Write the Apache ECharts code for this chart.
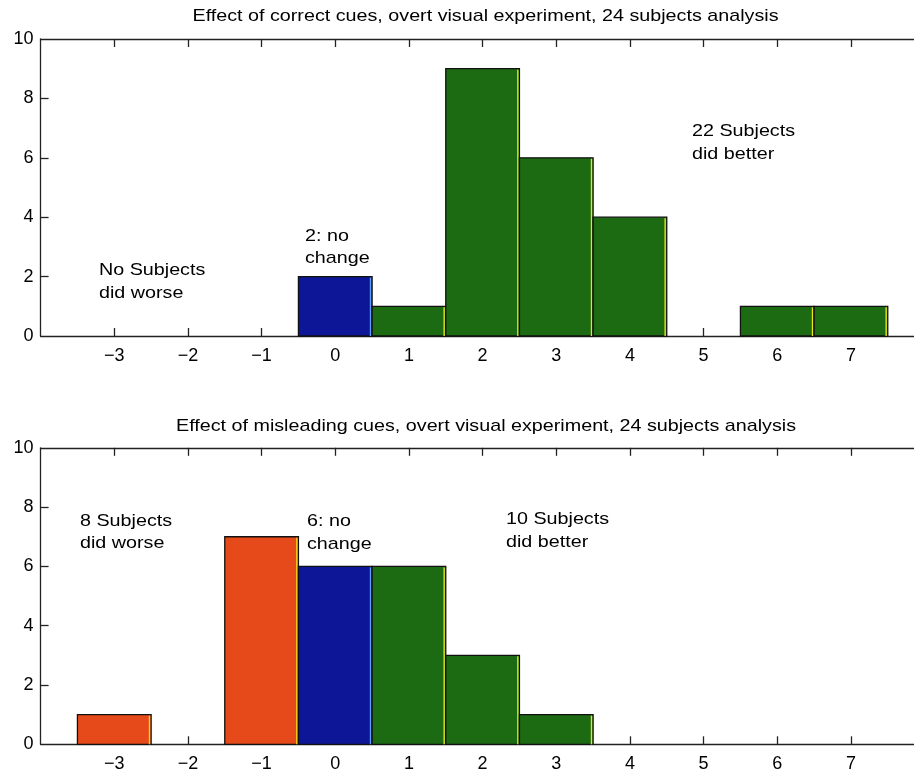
<!DOCTYPE html>
<html>
<head>
<meta charset="utf-8">
<script src="https://cdn.jsdelivr.net/npm/echarts@6/dist/echarts.min.js"></script>
<style>html,body{margin:0;padding:0;background:#fff}#c{width:914px;height:774px}</style>
</head>
<body>
<div id="c"></div>
<script>
// ---- data ----
var bins = [-3, -2, -1, 0, 1, 2, 3, 4, 5, 6, 7];
var correctCounts = [0, 0, 0, 2, 1, 9, 6, 4, 0, 1, 1];
var misleadingCounts = [1, 0, 7, 6, 6, 3, 1, 0, 0, 0, 0];
var yTicks = [0, 2, 4, 6, 8, 10];
var titles = [
  'Effect of correct cues, overt visual experiment, 24 subjects analysis',
  'Effect of misleading cues, overt visual experiment, 24 subjects analysis'
];
var notesTop = ['No Subjects\ndid worse', '2: no\nchange', '22 Subjects\ndid better'];
var notesBottom = ['8 Subjects\ndid worse', '6: no\nchange', '10 Subjects\ndid better'];

var FONT = 'Liberation Sans, Arial, Helvetica, sans-serif';
var SX = 1.16;
var C_RED = '#e64a1a', C_BLUE = '#0d1696', C_GREEN = '#1c6a12';
var E_RED = '#ffd21a', E_BLUE = '#5f9cff', E_GREEN = '#e6e61a';

function colorFor(b) { return b < 0 ? C_RED : (b === 0 ? C_BLUE : C_GREEN); }
function edgeFor(b) { return b < 0 ? E_RED : (b === 0 ? E_BLUE : E_GREEN); }

function buildData(counts) {
  var d = [];
  for (var i = 0; i < bins.length; i++) if (counts[i] > 0) d.push([bins[i], counts[i]]);
  return d;
}

function renderBar(params, api) {
  var b = api.value(0), v = api.value(1);
  var p0 = api.coord([b - 0.5, v]);
  var p1 = api.coord([b + 0.5, 0]);
  var x = p0[0], y = p0[1], w = p1[0] - p0[0], h = p1[1] - p0[1];
  return {
    type: 'group',
    children: [
      { type: 'rect', shape: { x: x, y: y, width: w, height: h },
        style: { fill: colorFor(b), stroke: '#111', lineWidth: 1.3 } },
      { type: 'line', shape: { x1: x + w - 1.6, y1: y + 1, x2: x + w - 1.6, y2: y + h },
        style: { stroke: edgeFor(b), lineWidth: 1.4 } }
    ]
  };
}

var gridW = 884;
var grids = [
  { left: 40.6, top: 39, width: gridW, height: 297, containLabel: false, outerBoundsMode: 'none' },
  { left: 40.6, top: 447.8, width: gridW, height: 296.5, containLabel: false, outerBoundsMode: 'none' }
];

var axisLineStyle = { color: '#222', width: 1.3 };
var xAxes = [], yAxes = [];
[0, 1].forEach(function (g) {
  xAxes.push({
    type: 'value', gridIndex: g, min: -4, max: 8, interval: 1, position: 'bottom',
    axisLine: { show: true, onZero: false, lineStyle: axisLineStyle },
    axisTick: { show: true, inside: true, length: 8, lineStyle: axisLineStyle, customValues: bins },
    axisLabel: { show: true, margin: 11, fontSize: 18, fontFamily: FONT, color: '#000',
      customValues: bins, formatter: function (v) { return v < 0 ? '\u2212' + Math.abs(v) : String(v); } },
    splitLine: { show: false }
  });
  xAxes.push({
    type: 'value', gridIndex: g, min: -4, max: 8, interval: 1, position: 'top',
    axisLine: { show: true, onZero: false, lineStyle: axisLineStyle },
    axisTick: { show: true, inside: true, length: 8, lineStyle: axisLineStyle, customValues: bins },
    axisLabel: { show: false }, splitLine: { show: false }
  });
  yAxes.push({
    type: 'value', gridIndex: g, min: 0, max: 10, interval: 2, position: 'left',
    axisLine: { show: true, onZero: false, lineStyle: axisLineStyle },
    axisTick: { show: true, inside: true, length: 8, lineStyle: axisLineStyle, customValues: [2, 4, 6, 8] },
    axisLabel: { show: true, margin: 7, fontSize: 18, fontFamily: FONT, color: '#000', customValues: yTicks },
    splitLine: { show: false }
  });
});

function txt(text, x, y, align) {
  return {
    type: 'text', x: x, y: y, scaleX: SX, silent: true,
    style: { text: text, font: '17px ' + FONT, fill: '#000', textAlign: align || 'left',
      textVerticalAlign: 'top', lineHeight: 22.5 }
  };
}

var graphics = [
  txt(titles[0], 485.5, 5, 'center'),
  txt(titles[1], 486, 415, 'center'),
  txt(notesTop[0], 99, 259.5),
  txt(notesTop[1], 305, 225),
  txt(notesTop[2], 692, 120.5),
  txt(notesBottom[0], 80, 510),
  txt(notesBottom[1], 307, 510.5),
  txt(notesBottom[2], 506, 508.5)
];

var chart = echarts.init(document.getElementById('c'), null, { renderer: 'canvas' });
chart.setOption({
  animation: false,
  backgroundColor: '#fff',
  grid: grids,
  xAxis: xAxes,
  yAxis: yAxes,
  graphic: graphics,
  series: [
    { type: 'custom', xAxisIndex: 0, yAxisIndex: 0, renderItem: renderBar, data: buildData(correctCounts), clip: false },
    { type: 'custom', xAxisIndex: 2, yAxisIndex: 1, renderItem: renderBar, data: buildData(misleadingCounts), clip: false }
  ]
});
</script>
</body>
</html>
